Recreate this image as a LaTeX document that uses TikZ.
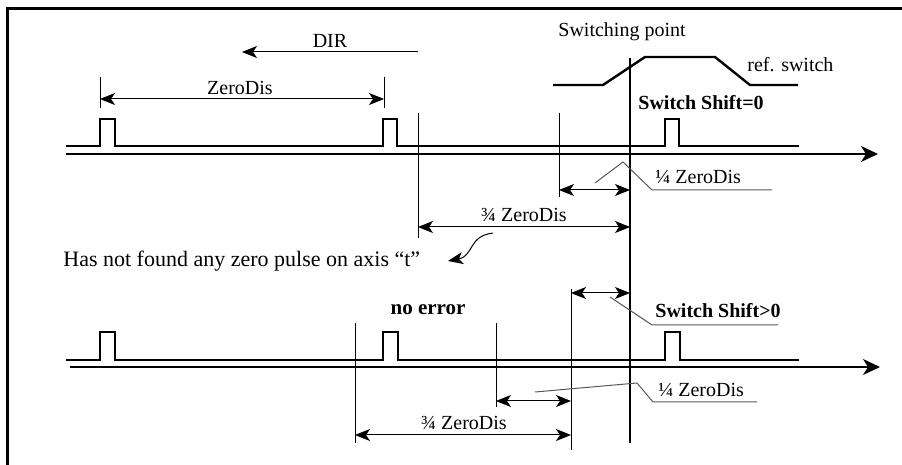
\documentclass[tikz,border=0pt]{standalone}
\usepackage{fontspec}
\setmainfont{Liberation Serif}
\usetikzlibrary{arrows.meta}
\newdimen\unitsize
\setlength{\unitsize}{0.5pt}

\begin{document}
\begin{tikzpicture}[x=\unitsize,y=-\unitsize,font=\fontsize{10}{12}\selectfont]
\tikzset{frame/.style={line width=1.5pt}}%
\tikzset{signal/.style={line width=1.2pt}}%
\tikzset{axis/.style={line width=0.7pt,-{Stealth[length=8.5pt,width=8pt,inset=2.5pt]}}}%
\tikzset{dimline/.style={line width=0.5pt}}%
\tikzset{tip/.style={-{Stealth[length=7.5pt,width=6pt,inset=2pt]}}}%
\tikzset{dimarrow/.style={line width=0.5pt,{Stealth[length=7.5pt,width=6pt,inset=2pt]}-{Stealth[length=7.5pt,width=6pt,inset=2pt]}}}%
\tikzset{leader/.style={line width=0.5pt,black!65}}%
\tikzset{lbl/.style={inner sep=0pt,anchor=base}}%
\useasboundingbox (0,0) rectangle (902,465);
\draw[frame] (7.3,465) -- (7.3,8.3) -- (902,8.3);
% direction and zero distance
\coordinate (dirR) at (418,52);
\coordinate (dirL) at (242,52);
\draw[dimline,tip] (dirR) -- (dirL);
\node[lbl] (dir) at (330,48) {DIR};
\coordinate (zdLtop) at (100,77);
\coordinate (zdLbot) at (100,108);
\coordinate (zdRtop) at (384,77);
\coordinate (zdRbot) at (384,108);
\coordinate (zdL) at (100,99);
\coordinate (zdR) at (384,99);
\draw[dimline] (zdLtop) -- (zdLbot);
\draw[dimline] (zdRtop) -- (zdRbot);
\draw[dimarrow] (zdL) -- (zdR);
\node[lbl] (zerodis) at (240,95) {ZeroDis};
% reference switch
\draw[signal] (553,85) -- (603,85) -- (645,57) -- (715,57) -- (750,85) -- (798,85);
\node[lbl] (swpoint) at (622,37) {Switching point};
\node[lbl,anchor=base west] (refsw) at (747,72) {ref. switch};
\coordinate (swtop) at (630,58);
\coordinate (swbot) at (630,443);
\draw[signal] (swtop) -- (swbot);
% first case: switch shift = 0
\node[lbl,anchor=base west,font=\fontsize{10}{12}\selectfont\bfseries] (shift0) at (638,110) {Switch Shift=0};
\draw[signal] (66,146) -- (100,146) -- (100,119) -- (115,119) -- (115,146)
  -- (383,146) -- (383,119) -- (397,119) -- (397,146)
  -- (665,146) -- (665,119) -- (679,119) -- (679,146) -- (799,146);
\draw[axis] (66,154) -- (878,154);
\coordinate (ta1top) at (418,113);
\coordinate (ta1bot) at (418,238);
\coordinate (tq1top) at (559,113);
\coordinate (tq1bot) at (559,197);
\draw[dimline] (ta1top) -- (ta1bot);
\draw[dimline] (tq1top) -- (tq1bot);
\coordinate (q1L) at (559,190);
\coordinate (q1R) at (630,190);
\draw[dimarrow] (q1L) -- (q1R);
\draw[leader] (595,183) -- (623,162) -- (652,190) -- (772,190);
\node[lbl,anchor=base west] (quarter1) at (655,184) {¼ ZeroDis};
\coordinate (a1L) at (418,227);
\coordinate (a1R) at (630,227);
\draw[dimarrow] (a1L) -- (a1R);
\node[lbl] (threeq1) at (524,222) {¾ ZeroDis};
% no zero pulse found
\node[lbl,anchor=base west,font=\fontsize{11}{13}\selectfont] (nofound) at (63,267) {Has not found any zero pulse on axis “t”};
\coordinate (curveS) at (493,233);
\coordinate (curveE) at (448,261);
\draw[dimline,tip] (curveS) .. controls (468,236) and (474,256) .. (curveE);
% second case: switch shift > 0
\node[lbl,font=\fontsize{10.5}{12}\selectfont\bfseries] (noerror) at (428,315) {no error};
\node[lbl,anchor=base west,font=\fontsize{10}{12}\selectfont\bfseries] (shiftp) at (655,318) {Switch Shift>0};
\draw[signal] (66,360) -- (100,360) -- (100,332) -- (115,332) -- (115,360)
  -- (383,360) -- (383,332) -- (398,332) -- (398,360)
  -- (665,360) -- (665,332) -- (680,332) -- (680,360) -- (799,360);
\draw[axis] (70,367) -- (880,367);
\coordinate (ta2top) at (355,323);
\coordinate (ta2bot) at (355,443);
\coordinate (tq2top) at (496,323);
\coordinate (tq2bot) at (496,407);
\coordinate (tsTop) at (571,289);
\coordinate (tsBot) at (571,450);
\draw[dimline] (ta2top) -- (ta2bot);
\draw[dimline] (tq2top) -- (tq2bot);
\draw[dimline] (tsTop) -- (tsBot);
\coordinate (sL) at (571,293);
\coordinate (sR) at (630,293);
\draw[dimarrow] (sL) -- (sR);
\draw[leader] (610,297) -- (652,325) -- (778,325);
\coordinate (q2L) at (496,401);
\coordinate (q2R) at (571,401);
\draw[dimarrow] (q2L) -- (q2R);
\draw[leader] (535,392) -- (637,383) -- (653,402) -- (757,402);
\node[lbl,anchor=base west] (quarter2) at (658,397) {¼ ZeroDis};
\coordinate (a2L) at (355,435);
\coordinate (a2R) at (571,435);
\draw[dimarrow] (a2L) -- (a2R);
\node[lbl] (threeq2) at (464,430) {¾ ZeroDis};
\end{tikzpicture}
\end{document}
